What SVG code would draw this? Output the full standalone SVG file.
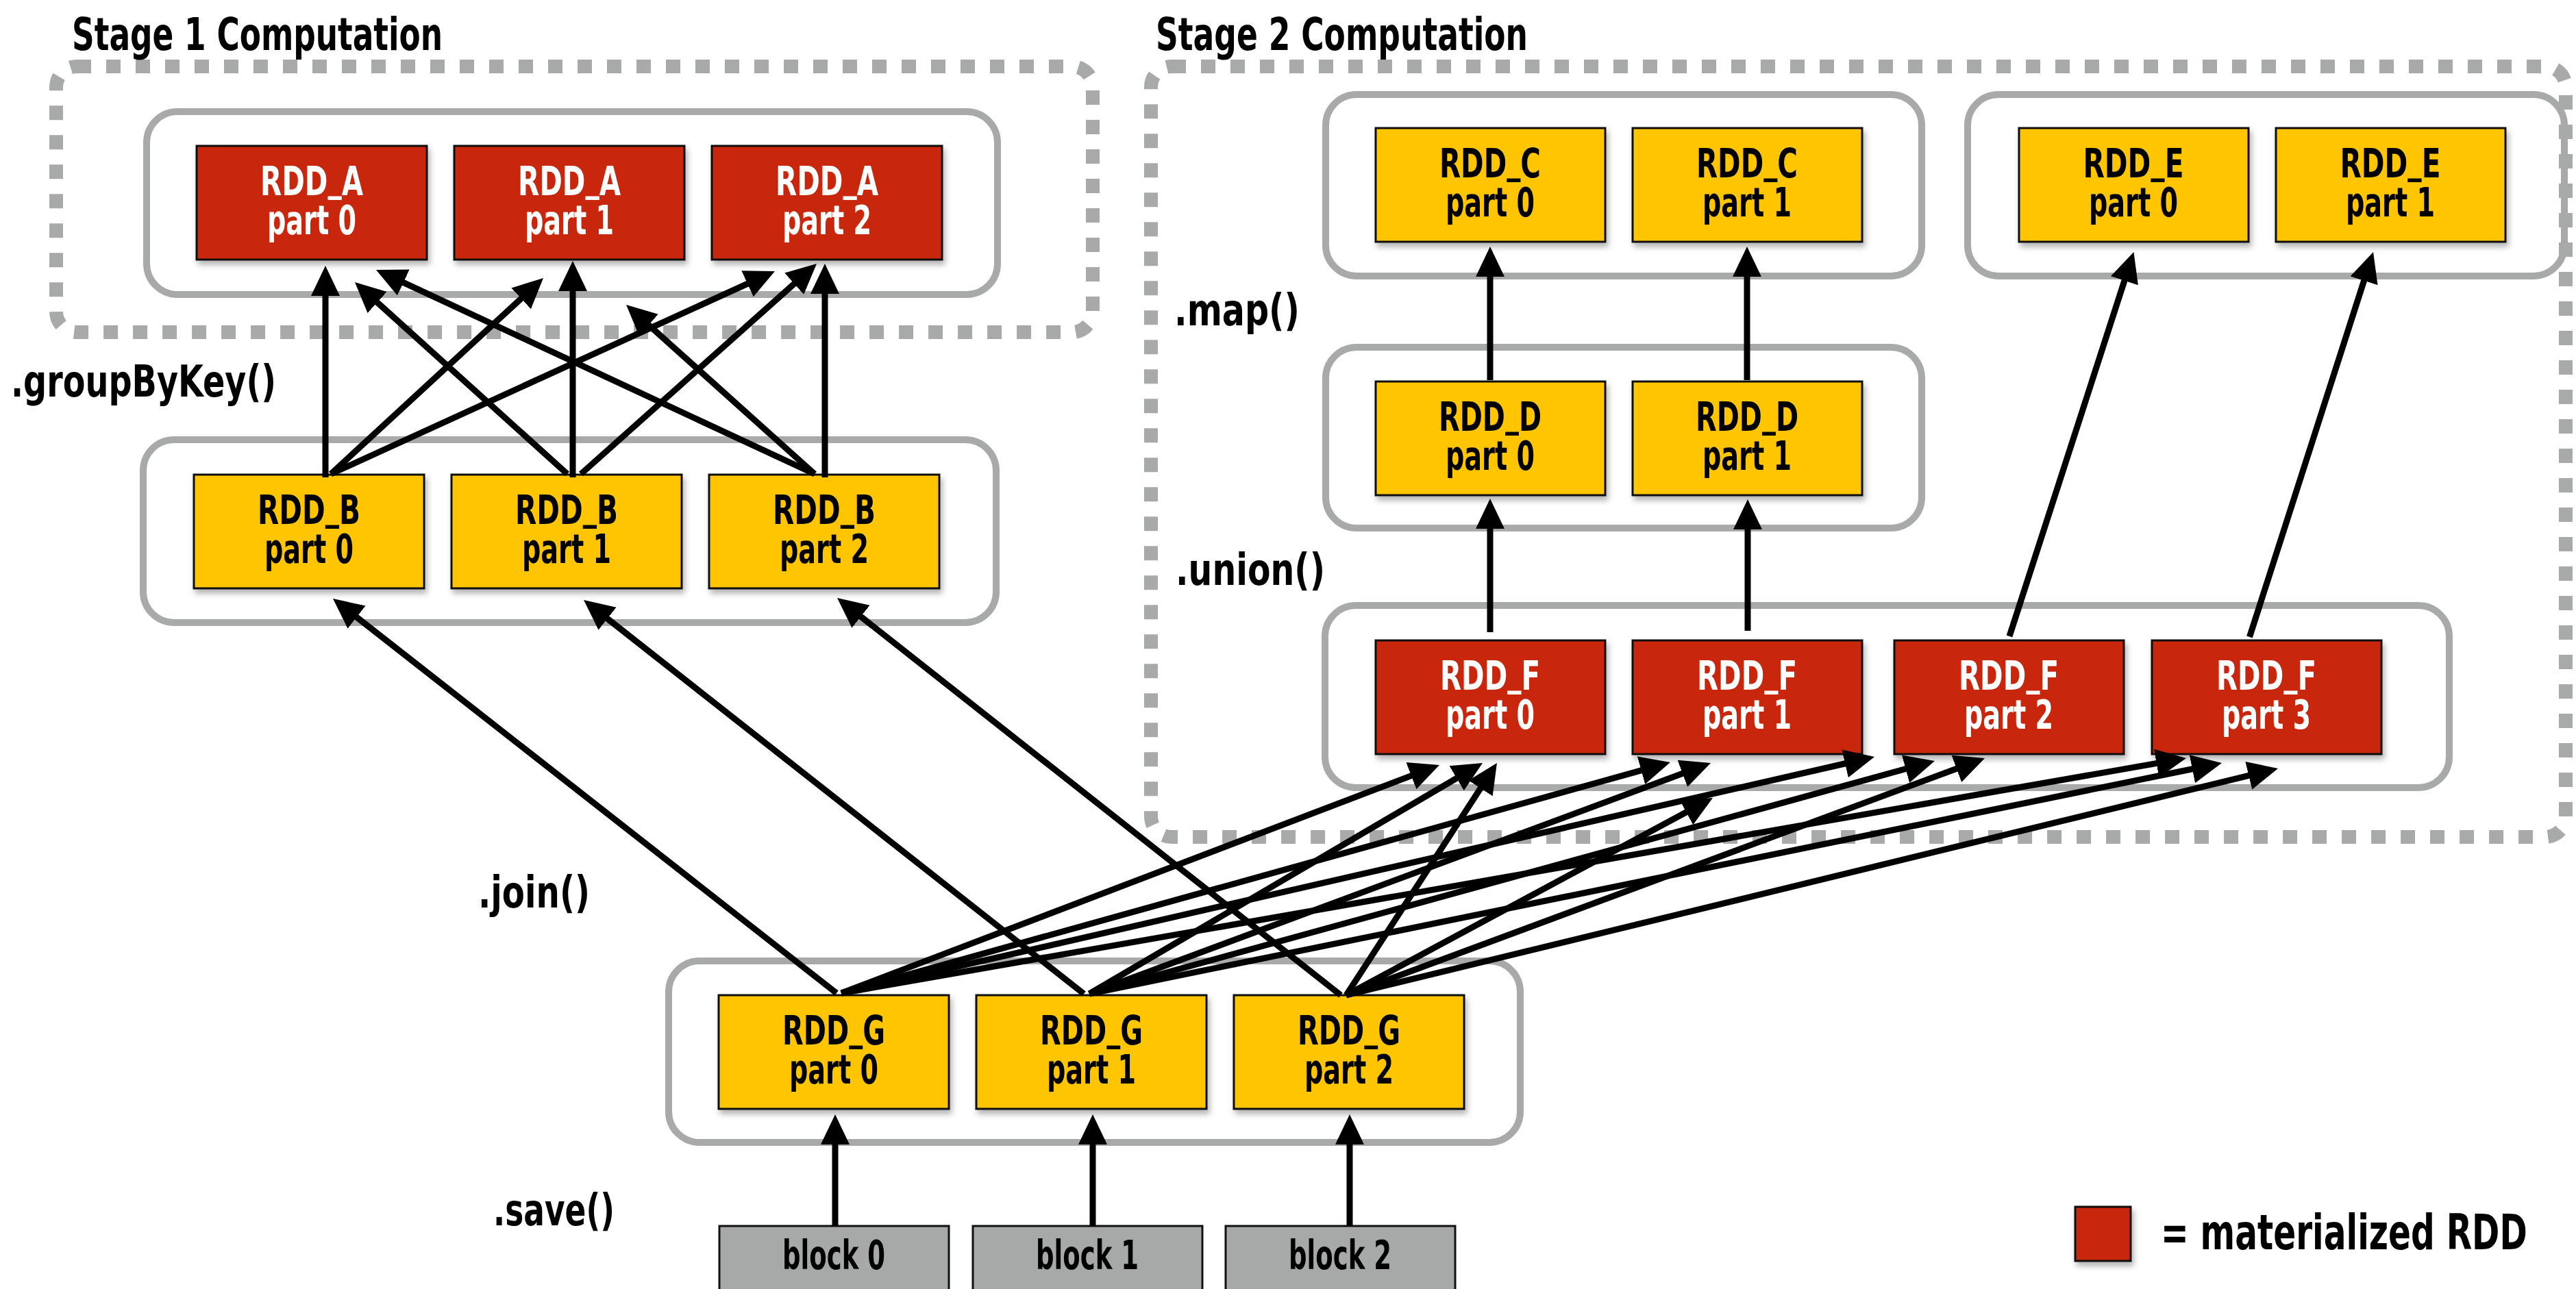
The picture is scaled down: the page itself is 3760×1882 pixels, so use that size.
<svg xmlns="http://www.w3.org/2000/svg" width="3760" height="1882" viewBox="0 0 3760 1882">
<style>
text{font-family:'Liberation Sans Narrow','Arial Narrow','DejaVu Sans Condensed','Liberation Sans',sans-serif;font-weight:bold;}
.lbl{font-size:59px;text-anchor:middle;}
.w{fill:#fff;}
.k{fill:#000;}
.op{font-size:64px;fill:#000;}
.title{font-size:66px;fill:#000;}
.red{fill:#C8260A;stroke:#111;stroke-width:3;filter:url(#sh);}
.yel{fill:#FFC600;stroke:#111;stroke-width:3;filter:url(#sh);}
.blk{fill:#A6A9A8;stroke:#111;stroke-width:3;}
.cont{fill:none;stroke:#A7AAA9;stroke-width:10;}
.stage{fill:none;stroke:#A7AAA9;stroke-width:20;stroke-dasharray:21 22;}
.cn line{stroke:#000;stroke-width:9;marker-end:url(#ah);}
</style>
<defs>
<filter id="sh" x="-10%" y="-10%" width="130%" height="140%">
<feDropShadow dx="3" dy="6" stdDeviation="4" flood-color="#000" flood-opacity="0.3"/>
</filter>
<marker id="ah" markerUnits="userSpaceOnUse" markerWidth="44" markerHeight="44" viewBox="0 0 44 44" refX="24" refY="22" orient="auto">
<path d="M0,1 L44,22 L0,43 z" fill="#000"/>
</marker>
</defs>
<rect width="3760" height="1882" fill="#fff"/>

<!-- stage frames -->
<g id="stage1">
<rect class="stage" x="82" y="97" width="1513" height="388" rx="30"/>
<text class="title" x="105" y="73" textLength="541" lengthAdjust="spacingAndGlyphs">Stage 1 Computation</text>
</g>
<g id="stage2">
<rect class="stage" x="1680" y="97" width="2065" height="1125" rx="30"/>
<text class="title" x="1687" y="73" textLength="543" lengthAdjust="spacingAndGlyphs">Stage 2 Computation</text>
</g>

<!-- containers -->
<g id="containers">
<rect id="cont-A" class="cont" x="214" y="163" width="1242" height="267" rx="45"/>
<rect id="cont-B" class="cont" x="209" y="642" width="1245" height="267" rx="45"/>
<rect id="cont-G" class="cont" x="976" y="1403" width="1243" height="265" rx="45"/>
<rect id="cont-C" class="cont" x="1935" y="138" width="870" height="265" rx="45"/>
<rect id="cont-E" class="cont" x="2872" y="138" width="871" height="265" rx="45"/>
<rect id="cont-D" class="cont" x="1935" y="507" width="870" height="264" rx="45"/>
<rect id="cont-F" class="cont" x="1934" y="884" width="1641" height="266" rx="45"/>
</g>

<!-- operation labels -->
<g id="ops">
<text class="op" x="16" y="579" textLength="387" lengthAdjust="spacingAndGlyphs">.groupByKey()</text>
<text class="op" x="1714" y="475" textLength="183" lengthAdjust="spacingAndGlyphs">.map()</text>
<text class="op" x="1716" y="854" textLength="218" lengthAdjust="spacingAndGlyphs">.union()</text>
<text class="op" x="698" y="1325" textLength="163" lengthAdjust="spacingAndGlyphs">.join()</text>
<text class="op" x="720" y="1789" textLength="177" lengthAdjust="spacingAndGlyphs">.save()</text>
</g>

<!-- RDD_A -->
<g id="A0"><rect class="red" x="287" y="213" width="336" height="166"/><text class="lbl w"><tspan x="455" y="285" textLength="150" lengthAdjust="spacingAndGlyphs">RDD<tspan dy="-7">_</tspan><tspan dy="7">A</tspan></tspan><tspan x="455" y="342" textLength="130" lengthAdjust="spacingAndGlyphs">part 0</tspan></text></g>
<g id="A1"><rect class="red" x="663" y="213" width="336" height="166"/><text class="lbl w"><tspan x="831" y="285" textLength="150" lengthAdjust="spacingAndGlyphs">RDD<tspan dy="-7">_</tspan><tspan dy="7">A</tspan></tspan><tspan x="831" y="342" textLength="130" lengthAdjust="spacingAndGlyphs">part 1</tspan></text></g>
<g id="A2"><rect class="red" x="1039" y="213" width="336" height="166"/><text class="lbl w"><tspan x="1207" y="285" textLength="150" lengthAdjust="spacingAndGlyphs">RDD<tspan dy="-7">_</tspan><tspan dy="7">A</tspan></tspan><tspan x="1207" y="342" textLength="130" lengthAdjust="spacingAndGlyphs">part 2</tspan></text></g>

<!-- RDD_B -->
<g id="B0"><rect class="yel" x="283" y="693" width="336" height="166"/><text class="lbl k"><tspan x="451" y="765" textLength="150" lengthAdjust="spacingAndGlyphs">RDD<tspan dy="-7">_</tspan><tspan dy="7">B</tspan></tspan><tspan x="451" y="822" textLength="130" lengthAdjust="spacingAndGlyphs">part 0</tspan></text></g>
<g id="B1"><rect class="yel" x="659" y="693" width="336" height="166"/><text class="lbl k"><tspan x="827" y="765" textLength="150" lengthAdjust="spacingAndGlyphs">RDD<tspan dy="-7">_</tspan><tspan dy="7">B</tspan></tspan><tspan x="827" y="822" textLength="130" lengthAdjust="spacingAndGlyphs">part 1</tspan></text></g>
<g id="B2"><rect class="yel" x="1035" y="693" width="336" height="166"/><text class="lbl k"><tspan x="1203" y="765" textLength="150" lengthAdjust="spacingAndGlyphs">RDD<tspan dy="-7">_</tspan><tspan dy="7">B</tspan></tspan><tspan x="1203" y="822" textLength="130" lengthAdjust="spacingAndGlyphs">part 2</tspan></text></g>

<!-- RDD_G -->
<g id="G0"><rect class="yel" x="1049" y="1453" width="336" height="166"/><text class="lbl k"><tspan x="1217" y="1525" textLength="150" lengthAdjust="spacingAndGlyphs">RDD<tspan dy="-7">_</tspan><tspan dy="7">G</tspan></tspan><tspan x="1217" y="1582" textLength="130" lengthAdjust="spacingAndGlyphs">part 0</tspan></text></g>
<g id="G1"><rect class="yel" x="1425" y="1453" width="336" height="166"/><text class="lbl k"><tspan x="1593" y="1525" textLength="150" lengthAdjust="spacingAndGlyphs">RDD<tspan dy="-7">_</tspan><tspan dy="7">G</tspan></tspan><tspan x="1593" y="1582" textLength="130" lengthAdjust="spacingAndGlyphs">part 1</tspan></text></g>
<g id="G2"><rect class="yel" x="1801" y="1453" width="336" height="166"/><text class="lbl k"><tspan x="1969" y="1525" textLength="150" lengthAdjust="spacingAndGlyphs">RDD<tspan dy="-7">_</tspan><tspan dy="7">G</tspan></tspan><tspan x="1969" y="1582" textLength="130" lengthAdjust="spacingAndGlyphs">part 2</tspan></text></g>

<!-- blocks -->
<g id="block0"><rect class="blk" x="1050" y="1790" width="335" height="110"/><text class="lbl k" x="1217" y="1853" textLength="150" lengthAdjust="spacingAndGlyphs">block 0</text></g>
<g id="block1"><rect class="blk" x="1420" y="1790" width="335" height="110"/><text class="lbl k" x="1587" y="1853" textLength="150" lengthAdjust="spacingAndGlyphs">block 1</text></g>
<g id="block2"><rect class="blk" x="1789" y="1790" width="335" height="110"/><text class="lbl k" x="1956" y="1853" textLength="150" lengthAdjust="spacingAndGlyphs">block 2</text></g>

<!-- RDD_C -->
<g id="C0"><rect class="yel" x="2008" y="187" width="335" height="166"/><text class="lbl k"><tspan x="2175" y="259" textLength="148" lengthAdjust="spacingAndGlyphs">RDD<tspan dy="-7">_</tspan><tspan dy="7">C</tspan></tspan><tspan x="2175" y="316" textLength="130" lengthAdjust="spacingAndGlyphs">part 0</tspan></text></g>
<g id="C1"><rect class="yel" x="2383" y="187" width="335" height="166"/><text class="lbl k"><tspan x="2550" y="259" textLength="148" lengthAdjust="spacingAndGlyphs">RDD<tspan dy="-7">_</tspan><tspan dy="7">C</tspan></tspan><tspan x="2550" y="316" textLength="130" lengthAdjust="spacingAndGlyphs">part 1</tspan></text></g>

<!-- RDD_E -->
<g id="E0"><rect class="yel" x="2947" y="187" width="335" height="166"/><text class="lbl k"><tspan x="3114" y="259" textLength="147" lengthAdjust="spacingAndGlyphs">RDD<tspan dy="-7">_</tspan><tspan dy="7">E</tspan></tspan><tspan x="3114" y="316" textLength="130" lengthAdjust="spacingAndGlyphs">part 0</tspan></text></g>
<g id="E1"><rect class="yel" x="3322" y="187" width="335" height="166"/><text class="lbl k"><tspan x="3489" y="259" textLength="147" lengthAdjust="spacingAndGlyphs">RDD<tspan dy="-7">_</tspan><tspan dy="7">E</tspan></tspan><tspan x="3489" y="316" textLength="130" lengthAdjust="spacingAndGlyphs">part 1</tspan></text></g>

<!-- RDD_D -->
<g id="D0"><rect class="yel" x="2008" y="557" width="335" height="166"/><text class="lbl k"><tspan x="2175" y="629" textLength="150" lengthAdjust="spacingAndGlyphs">RDD<tspan dy="-7">_</tspan><tspan dy="7">D</tspan></tspan><tspan x="2175" y="686" textLength="130" lengthAdjust="spacingAndGlyphs">part 0</tspan></text></g>
<g id="D1"><rect class="yel" x="2383" y="557" width="335" height="166"/><text class="lbl k"><tspan x="2550" y="629" textLength="150" lengthAdjust="spacingAndGlyphs">RDD<tspan dy="-7">_</tspan><tspan dy="7">D</tspan></tspan><tspan x="2550" y="686" textLength="130" lengthAdjust="spacingAndGlyphs">part 1</tspan></text></g>

<!-- RDD_F -->
<g id="F0"><rect class="red" x="2008" y="935" width="335" height="166"/><text class="lbl w"><tspan x="2175" y="1007" textLength="146" lengthAdjust="spacingAndGlyphs">RDD<tspan dy="-7">_</tspan><tspan dy="7">F</tspan></tspan><tspan x="2175" y="1064" textLength="130" lengthAdjust="spacingAndGlyphs">part 0</tspan></text></g>
<g id="F1"><rect class="red" x="2383" y="935" width="335" height="166"/><text class="lbl w"><tspan x="2550" y="1007" textLength="146" lengthAdjust="spacingAndGlyphs">RDD<tspan dy="-7">_</tspan><tspan dy="7">F</tspan></tspan><tspan x="2550" y="1064" textLength="130" lengthAdjust="spacingAndGlyphs">part 1</tspan></text></g>
<g id="F2"><rect class="red" x="2765" y="935" width="335" height="166"/><text class="lbl w"><tspan x="2932" y="1007" textLength="146" lengthAdjust="spacingAndGlyphs">RDD<tspan dy="-7">_</tspan><tspan dy="7">F</tspan></tspan><tspan x="2932" y="1064" textLength="130" lengthAdjust="spacingAndGlyphs">part 2</tspan></text></g>
<g id="F3"><rect class="red" x="3141" y="935" width="335" height="166"/><text class="lbl w"><tspan x="3308" y="1007" textLength="146" lengthAdjust="spacingAndGlyphs">RDD<tspan dy="-7">_</tspan><tspan dy="7">F</tspan></tspan><tspan x="3308" y="1064" textLength="130" lengthAdjust="spacingAndGlyphs">part 3</tspan></text></g>

<!-- legend -->
<g id="legend">
<rect x="3029" y="1762" width="81" height="79" fill="#C8260A" stroke="#111" stroke-width="3" filter="url(#sh)"/>
<text transform="translate(3154,1824) scale(0.75,1)" font-size="72" fill="#000">= materialized RDD</text>
</g>

<!-- connectors -->
<g id="connectors" class="cn">
<!-- groupByKey: B -> A -->
<line x1="475" y1="697" x2="475" y2="408"/>
<line x1="483" y1="692" x2="778.3" y2="419.6"/>
<line x1="483" y1="692" x2="1112.8" y2="404.3"/>
<line x1="828" y1="692" x2="532.8" y2="425.4"/>
<line x1="836" y1="697" x2="836" y2="401"/>
<line x1="848" y1="692" x2="1177.1" y2="398.3"/>
<line x1="1189" y1="692" x2="567.1" y2="402.4"/>
<line x1="1189" y1="692" x2="928.9" y2="458.4"/>
<line x1="1204" y1="697" x2="1204" y2="405"/>
<!-- join: G -> B -->
<line x1="1221" y1="1450" x2="501.7" y2="886.3"/>
<line x1="1582" y1="1451" x2="867.7" y2="888.4"/>
<line x1="1957" y1="1453" x2="1237.7" y2="885.4"/>
<!-- save: block -> G -->
<line x1="1219" y1="1790" x2="1219" y2="1647"/>
<line x1="1595" y1="1790" x2="1595" y2="1647"/>
<line x1="1970" y1="1790" x2="1970" y2="1647"/>
<!-- join: G -> F -->
<line x1="1228" y1="1450" x2="2082.3" y2="1124.1"/>
<line x1="1228" y1="1450" x2="2418.7" y2="1118.4"/>
<line x1="1228" y1="1450" x2="2716.5" y2="1109.5"/>
<line x1="1228" y1="1450" x2="3171.3" y2="1110.4"/>
<line x1="1590" y1="1451" x2="2146.8" y2="1124.1"/>
<line x1="1590" y1="1451" x2="2478.3" y2="1121"/>
<line x1="1590" y1="1451" x2="2804.7" y2="1116.3"/>
<line x1="1590" y1="1451" x2="3223.4" y2="1118"/>
<line x1="1965" y1="1453" x2="2174.1" y2="1130.8"/>
<line x1="1965" y1="1453" x2="2482.4" y2="1174.5"/>
<line x1="1965" y1="1453" x2="2878.3" y2="1114"/>
<line x1="1965" y1="1453" x2="3305.6" y2="1126.7"/>
<!-- union: F -> D -->
<line x1="2175" y1="923" x2="2175" y2="748"/>
<line x1="2551" y1="921" x2="2551" y2="749"/>
<!-- map: D -> C -->
<line x1="2175" y1="555" x2="2175" y2="380"/>
<line x1="2550" y1="555" x2="2550" y2="380"/>
<!-- union: F -> E -->
<line x1="2933" y1="929" x2="3108.3" y2="387"/>
<line x1="3283.5" y1="930" x2="3457.9" y2="387"/>
</g>
</svg>
